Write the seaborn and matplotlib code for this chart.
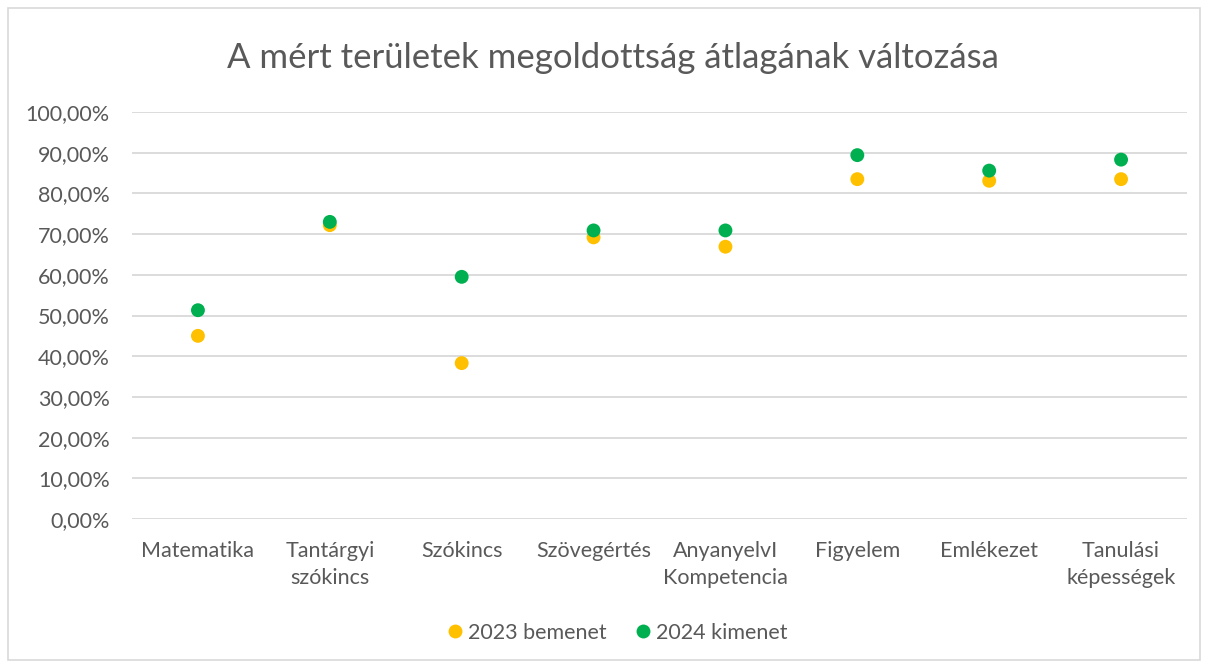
import numpy as np
import pandas as pd
import matplotlib
matplotlib.use("Agg")
import matplotlib.pyplot as plt
from matplotlib.ticker import FuncFormatter
from matplotlib.patches import Rectangle
import seaborn as sns

sns.set_style("white")
plt.rcParams['font.family'] = ['Lato', 'DejaVu Sans']

# Data
categories = ["Matematika", "Tantárgyi\nszókincs", "Szókincs", "Szövegértés",
              "AnyanyelvI\nKompetencia", "Figyelem", "Emlékezet",
              "Tanulási\nképességek"]
values_2023 = [45.0, 72.2, 38.3, 69.2, 66.9, 83.5, 83.1, 83.5]
values_2024 = [51.3, 73.0, 59.5, 70.9, 70.9, 89.4, 85.6, 88.3]
series_names = ["2023 bemenet", "2024 kimenet"]
colors = ["#FFC000", "#00B050"]

df = pd.DataFrame({
    "Terület": categories * 2,
    "Érték": values_2023 + values_2024,
    "Év": [series_names[0]] * len(categories) + [series_names[1]] * len(categories),
})

fig = plt.figure(figsize=(12.08, 6.64), dpi=100)
ax = fig.add_axes([132 / 1208, (664 - 519) / 664, (1187 - 132) / 1208, (519 - 112) / 664])

sns.stripplot(data=df, x="Terület", y="Érték", hue="Év", order=categories,
              hue_order=series_names, palette=colors, jitter=False, dodge=False,
              size=10, linewidth=0, ax=ax, legend=False, zorder=3)

ax.set_ylim(0, 100)
ax.set_xlim(-0.5, len(categories) - 0.5)
ax.set_yticks(np.arange(0, 101, 10))
ax.yaxis.set_major_formatter(FuncFormatter(lambda v, p: f"{v:.2f}%".replace(".", ",")))
ax.grid(axis="y", color="#D9D9D9", linewidth=1.3)
ax.set_axisbelow(True)
for s in ax.spines.values():
    s.set_visible(False)
ax.set_xlabel("")
ax.set_ylabel("")
ax.tick_params(axis="both", length=0, labelsize=15.5, colors="#595959")
ax.tick_params(axis="y", pad=16)
ax.tick_params(axis="x", pad=16)
for lbl in ax.get_xticklabels():
    lbl.set_linespacing(1.45)

fig.text(0.507, 0.912, "A mért területek megoldottság átlagának változása",
         ha="center", va="center", fontsize=25, color="#595959")

handles = [plt.Line2D([], [], marker="o", linestyle="", markersize=10,
                      markerfacecolor=c, markeredgewidth=0) for c in colors]
fig.legend(handles, series_names, loc="center", bbox_to_anchor=(0.51, 0.047),
           ncol=2, frameon=False, fontsize=15.5, handletextpad=0.1,
           columnspacing=1.2, labelcolor="#595959", handlelength=1)

fig.patches.append(Rectangle((8 / 1208, 4 / 664), 1192 / 1208, 652 / 664,
                             transform=fig.transFigure, fill=False,
                             edgecolor="#D9D9D9", linewidth=1.2))

fig.savefig("out.png", dpi=100)
